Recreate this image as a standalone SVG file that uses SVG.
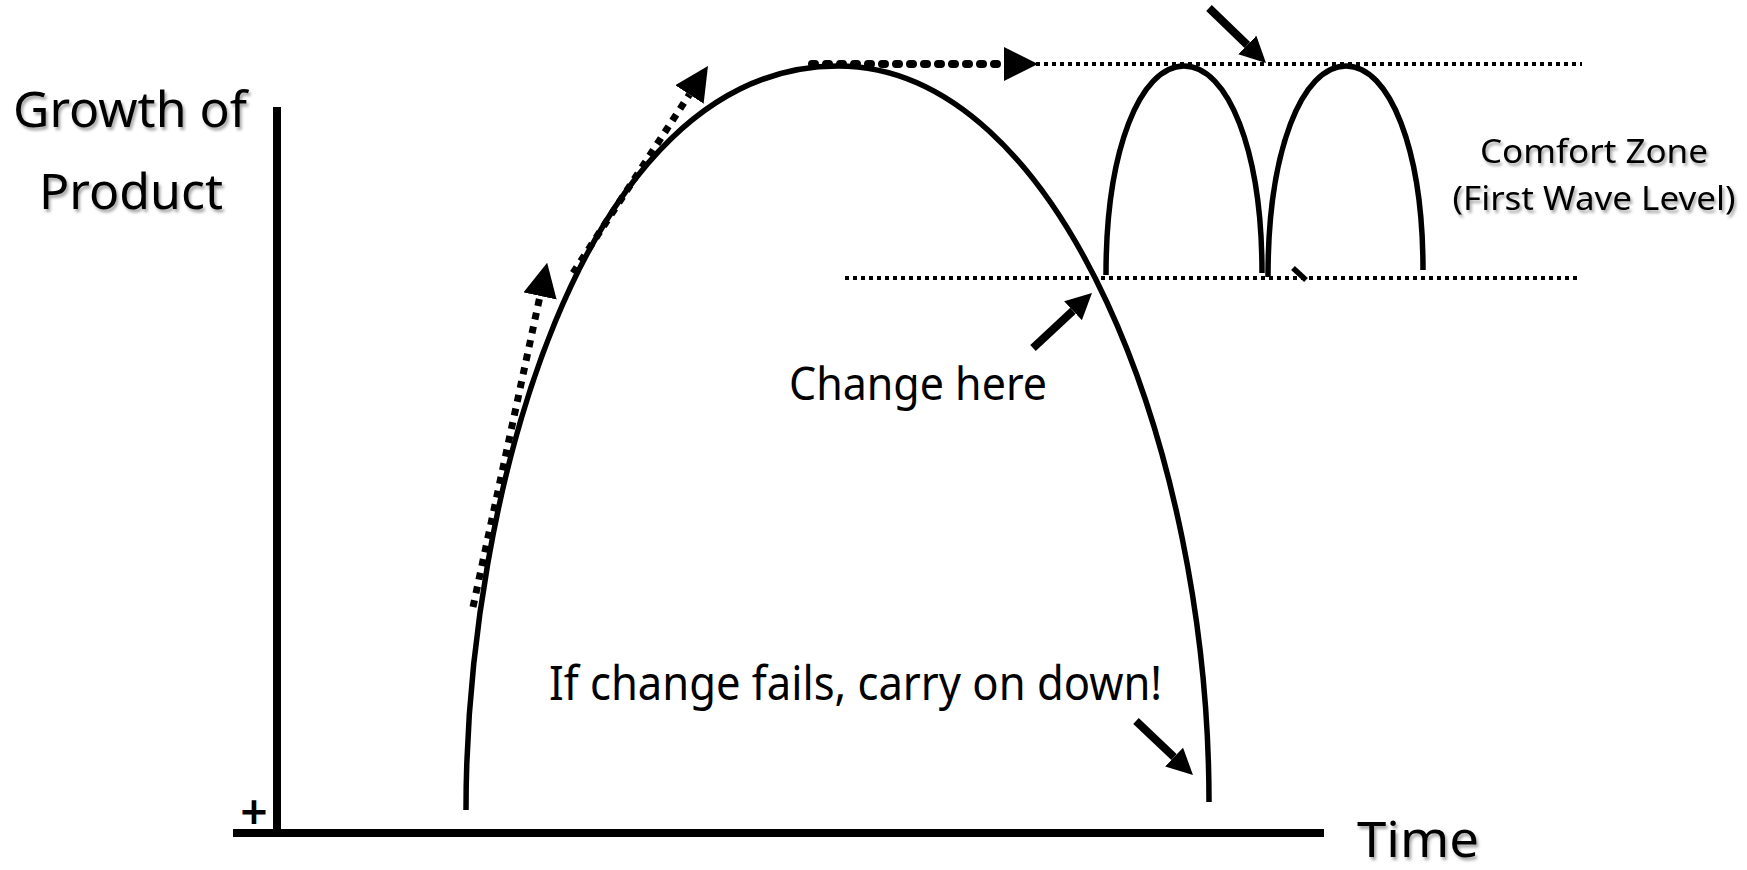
<svg xmlns="http://www.w3.org/2000/svg" width="1747" height="870" viewBox="0 0 1747 870">
<style>
.t{font-family:"Noto Sans","Open Sans","DejaVu Sans",sans-serif;fill:#000}
.sh{filter:url(#shadow)}
.curve{fill:none;stroke:#000;stroke-width:5.5}
.axis{fill:none;stroke:#000;stroke-width:8}
.thin{fill:none;stroke:#000;stroke-width:4;stroke-dasharray:4 4}
.dotd{fill:none;stroke:#000;stroke-width:7;stroke-dasharray:7 7}
.doth{fill:none;stroke:#000;stroke-width:8;stroke-linecap:round;stroke-dasharray:3 11}
.solid{fill:none;stroke:#000;stroke-width:8}
</style>
<defs>
<filter id="shadow" x="-10%" y="-20%" width="130%" height="150%">
<feDropShadow dx="2" dy="3" stdDeviation="1.8" flood-color="#000" flood-opacity="0.35"/>
</filter>
<marker id="big" markerWidth="34" markerHeight="34" refX="0" refY="17" orient="auto" markerUnits="userSpaceOnUse"><path d="M0,0 L34,17 L0,34 z" fill="#000"/></marker>
<marker id="sm" markerWidth="26" markerHeight="26" refX="0" refY="13" orient="auto" markerUnits="userSpaceOnUse"><path d="M0,0 L26,13 L0,26 z" fill="#000"/></marker>
</defs>
<rect width="1747" height="870" fill="#fff"/>

<g id="axes">
<line class="axis" x1="277" y1="107" x2="277" y2="833" stroke-width="7"/>
<line class="axis" x1="233" y1="833" x2="1324" y2="833"/>
<text class="t" x="254" y="829" font-size="48" font-weight="600" text-anchor="middle">+</text>
</g>

<g id="levels">
<line class="thin" x1="1036" y1="64" x2="1582" y2="64"/>
<line class="thin" x1="845" y1="278" x2="1577" y2="278"/>
</g>

<g id="main-wave">
<path class="curve" d="M466,810 C466,500 580,66 838,66 C1060,66 1209,450 1209,802"/>
</g>

<g id="second-waves">
<path class="curve" d="M1106,275 C1106,150 1140,66 1184,66 C1228,66 1262,150 1262,273"/>
<path class="curve" d="M1268,277 C1268,150 1302,66 1346,66 C1390,66 1423,150 1423,270"/>
<line class="curve" x1="1293" y1="268" x2="1306" y2="280"/>
</g>

<g id="connectors">
<line class="dotd" x1="473" y1="607" x2="540" y2="296" marker-end="url(#big)"/>
<line class="dotd" x1="573" y1="273" x2="689.4" y2="94.5" marker-end="url(#big)"/>
<line class="doth" x1="812" y1="64" x2="1004" y2="64" marker-end="url(#big)"/>
<line class="solid" x1="1209" y1="8" x2="1247.3" y2="45" marker-end="url(#sm)"/>
<line class="solid" x1="1033" y1="348" x2="1073" y2="310.7" marker-end="url(#sm)"/>
<line class="solid" x1="1136" y1="721" x2="1174.1" y2="757.1" marker-end="url(#sm)"/>
</g>

<g id="label-growth">
<text class="t sh" x="130" y="127" font-size="49" text-anchor="middle" textLength="234" lengthAdjust="spacingAndGlyphs">Growth of</text>
<text class="t sh" x="131" y="209" font-size="49" text-anchor="middle" textLength="184" lengthAdjust="spacingAndGlyphs">Product</text>
</g>
<g id="label-time">
<text class="t sh" x="1357" y="857" font-size="50" textLength="122" lengthAdjust="spacingAndGlyphs">Time</text>
</g>
<g id="label-comfort">
<text class="t sh" x="1594" y="163" font-size="32" text-anchor="middle" textLength="228" lengthAdjust="spacingAndGlyphs">Comfort Zone</text>
<text class="t sh" x="1594" y="210" font-size="32" text-anchor="middle" textLength="283" lengthAdjust="spacingAndGlyphs">(First Wave Level)</text>
</g>
<g id="label-change">
<text class="t" x="789" y="400" font-size="45" textLength="258" lengthAdjust="spacingAndGlyphs">Change here</text>
</g>
<g id="label-fail">
<text class="t" x="549" y="700" font-size="47" textLength="613" lengthAdjust="spacingAndGlyphs">If change fails, carry on down!</text>
</g>
</svg>
